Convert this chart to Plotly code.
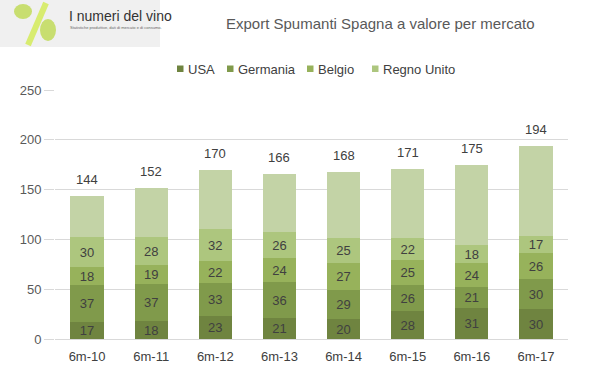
import plotly.graph_objects as go

categories = ["6m-10", "6m-11", "6m-12", "6m-13", "6m-14", "6m-15", "6m-16", "6m-17"]
usa = [17, 18, 23, 21, 20, 28, 31, 30]
germania = [37, 37, 33, 36, 29, 26, 21, 30]
belgio = [18, 19, 22, 24, 27, 25, 24, 26]
regno_unito = [30, 28, 32, 26, 25, 22, 18, 17]
totali = [144, 152, 170, 166, 168, 171, 175, 194]
altri = [t - (a + b + c + d) for t, a, b, c, d in zip(totali, usa, germania, belgio, regno_unito)]

W, H = 599, 378
L, R, T, B = 55, 31, 90, 39
FONT = "Liberation Sans"
TXT = "#404040"

def px(x):
    return (x - L) / (W - L - R)

def py(y):
    return (H - B - y) / (H - T - B)

fig = go.Figure()
series = [
    ("USA", usa, "#6f8440"),
    ("Germania", germania, "#809a4b"),
    ("Belgio", belgio, "#97b25b"),
    ("Regno Unito", regno_unito, "#adc67e"),
]
for name, vals, col in series:
    fig.add_trace(go.Bar(
        x=categories, y=vals, name=name, showlegend=False,
        marker=dict(color=col, line=dict(width=0)),
        text=vals, textposition="inside", insidetextanchor="middle", textangle=0,
        textfont=dict(color=TXT, size=13, family=FONT), hoverinfo="skip",
    ))
fig.add_trace(go.Bar(
    x=categories, y=altri, name="Altri", showlegend=False,
    marker=dict(color="#c3d3a6", line=dict(width=0)), hoverinfo="skip",
))

for c, t in zip(categories, totali):
    fig.add_annotation(x=c, y=t, text=str(t), showarrow=False, yshift=16,
                       font=dict(color=TXT, size=13, family=FONT))

shapes = []
# manual legend (marker square close to label, as in the reference)
legend_x = [177, 227, 307, 372]
for (name, vals, col), lx in zip(series, legend_x):
    shapes.append(dict(type="rect", xref="paper", yref="paper",
                       x0=px(lx), x1=px(lx + 6.5), y0=py(72), y1=py(65.5),
                       fillcolor=col, line=dict(width=0)))
    fig.add_annotation(x=px(lx + 8.5), y=py(69), xref="paper", yref="paper",
                       xanchor="left", yanchor="middle",
                       text=name, showarrow=False,
                       font=dict(color=TXT, size=13, family=FONT))

# title
fig.add_annotation(x=px(380), y=py(23), xref="paper", yref="paper",
                   xanchor="center", yanchor="middle",
                   text="Export Spumanti Spagna a valore per mercato", showarrow=False,
                   font=dict(color="#595959", size=15, family=FONT))

# logo approximation
shapes += [
    dict(type="rect", xref="paper", yref="paper", x0=px(0), x1=px(160), y0=py(47), y1=py(0),
         fillcolor="#f0f0f0", line=dict(width=0), layer="below"),
    dict(type="line", xref="paper", yref="paper", x0=px(28), y0=py(45), x1=px(46), y1=py(3),
         line=dict(color="#d8ec70", width=6)),
    dict(type="circle", xref="paper", yref="paper", x0=px(14), x1=px(32), y0=py(19), y1=py(4),
         fillcolor="#c8de70", line=dict(width=0)),
    dict(type="circle", xref="paper", yref="paper", x0=px(40), x1=px(56), y0=py(41), y1=py(19),
         fillcolor="#c8de70", line=dict(width=0)),
]
fig.add_annotation(x=px(67), y=py(16), xref="paper", yref="paper",
                   xanchor="left", yanchor="middle",
                   text="I numeri del vino", showarrow=False,
                   font=dict(color="#333333", size=14, family=FONT))
fig.add_annotation(x=px(68), y=py(27.5), xref="paper", yref="paper",
                   xanchor="left", yanchor="middle",
                   text="Statistiche produttive, dati di mercato e di consumo.", showarrow=False,
                   font=dict(color="#666666", size=4, family=FONT))

fig.update_layout(
    width=W, height=H, margin=dict(l=L, r=R, t=T, b=B),
    barmode="stack", bargap=0.48,
    plot_bgcolor="white", paper_bgcolor="white",
    font=dict(family=FONT, color=TXT, size=13),
    uniformtext=dict(minsize=13, mode="show"),
    shapes=shapes,
    showlegend=False,
)
fig.update_yaxes(range=[0, 250], dtick=50, showgrid=True, gridcolor="#d9d9d9", gridwidth=1,
                 zeroline=False, ticks="outside", ticklen=10, tickcolor="#d9d9d9",
                 tickfont=dict(color="#595959", size=13), showline=False)
fig.update_xaxes(showline=True, linecolor="#d9d9d9", linewidth=1,
                 ticks="outside", ticklen=5, tickcolor="rgba(0,0,0,0)",
                 tickfont=dict(color="#404040", size=13))

fig.write_html("out.html", config={"displayModeBar": False},
               post_script="document.body.style.margin='0';")
